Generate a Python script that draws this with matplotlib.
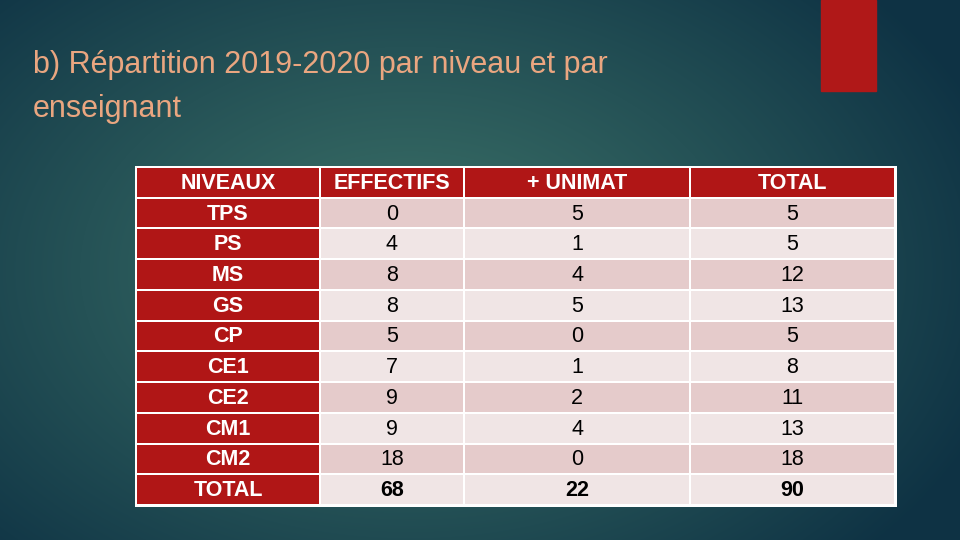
import numpy as np
import matplotlib.pyplot as plt
from matplotlib.patches import Rectangle

niveaux = ["TPS", "PS", "MS", "GS", "CP", "CE1", "CE2", "CM1", "CM2"]
effectifs = [0, 4, 8, 8, 5, 7, 9, 9, 18]
unimat = [5, 1, 4, 5, 0, 1, 2, 4, 0]
total = [5, 5, 12, 13, 5, 8, 11, 13, 18]
headers = ["NIVEAUX", "EFFECTIFS", "+ UNIMAT", "TOTAL"]
title = "b) Répartition 2019-2020 par niveau et par\nenseignant"

W, H = 960, 540
fig = plt.figure(figsize=(9.6, 5.4), dpi=100)
ax = fig.add_axes([0, 0, 1, 1])
ax.set_xlim(0, W)
ax.set_ylim(H, 0)
ax.axis("off")

# background radial gradient
yy, xx = np.mgrid[0:H, 0:W]
d = np.sqrt(((xx - 410) / 620) ** 2 + ((yy - 270) / 420) ** 2)
d = np.clip(d, 0, 1) ** 1.1
inner = np.array([60, 114, 104]) / 255
outer = np.array([14, 50, 68]) / 255
bg = inner[None, None, :] * (1 - d[..., None]) + outer[None, None, :] * d[..., None]
ax.imshow(bg, extent=[0, W, H, 0], zorder=0)

# red block top right
ax.add_patch(Rectangle((821, 0), 55, 91, color="#b01818", zorder=1))

ax.text(33, 87, title, color="#eaa680", fontsize=22, va="center", ha="left",
        family=["Liberation Sans", "DejaVu Sans"], linespacing=1.6)

# table
red = "#b01616"
dark = "#e5cbcb"
light = "#f0e5e5"
col_x = [136, 320, 464, 690, 895]
top, bottom = 167, 505
rows = [headers] + [[n, str(e), str(u), str(t)] for n, e, u, t in zip(niveaux, effectifs, unimat, total)]
rows.append(["TOTAL", str(sum(effectifs)), str(sum(unimat)), str(sum(total))])
rh = (bottom - top) / len(rows)
font = ["Liberation Sans", "DejaVu Sans"]

ax.add_patch(Rectangle((col_x[0] - 1.5, top - 1.5), col_x[-1] - col_x[0] + 3, bottom - top + 3,
                       facecolor="white", edgecolor="none", zorder=2))
for i, row in enumerate(rows):
    y0 = top + i * rh
    for j, val in enumerate(row):
        x0 = col_x[j]
        if i == 0 or j == 0:
            fc, tc = red, "white"
        else:
            fc, tc = (dark if i % 2 == 1 else light), "black"
        ax.add_patch(Rectangle((x0 + 1, y0 + 1), col_x[j + 1] - x0 - 2, rh - 2,
                               facecolor=fc, edgecolor="none", zorder=3))
        bold = (i == 0 or j == 0 or i == len(rows) - 1)
        ax.text((x0 + col_x[j + 1]) / 2, y0 + rh / 2 + 1, val, color=tc, fontsize=15.5,
                ha="center", va="center", family=font,
                fontweight="bold" if bold else "normal", zorder=4)

fig.savefig("out.png", dpi=100)
